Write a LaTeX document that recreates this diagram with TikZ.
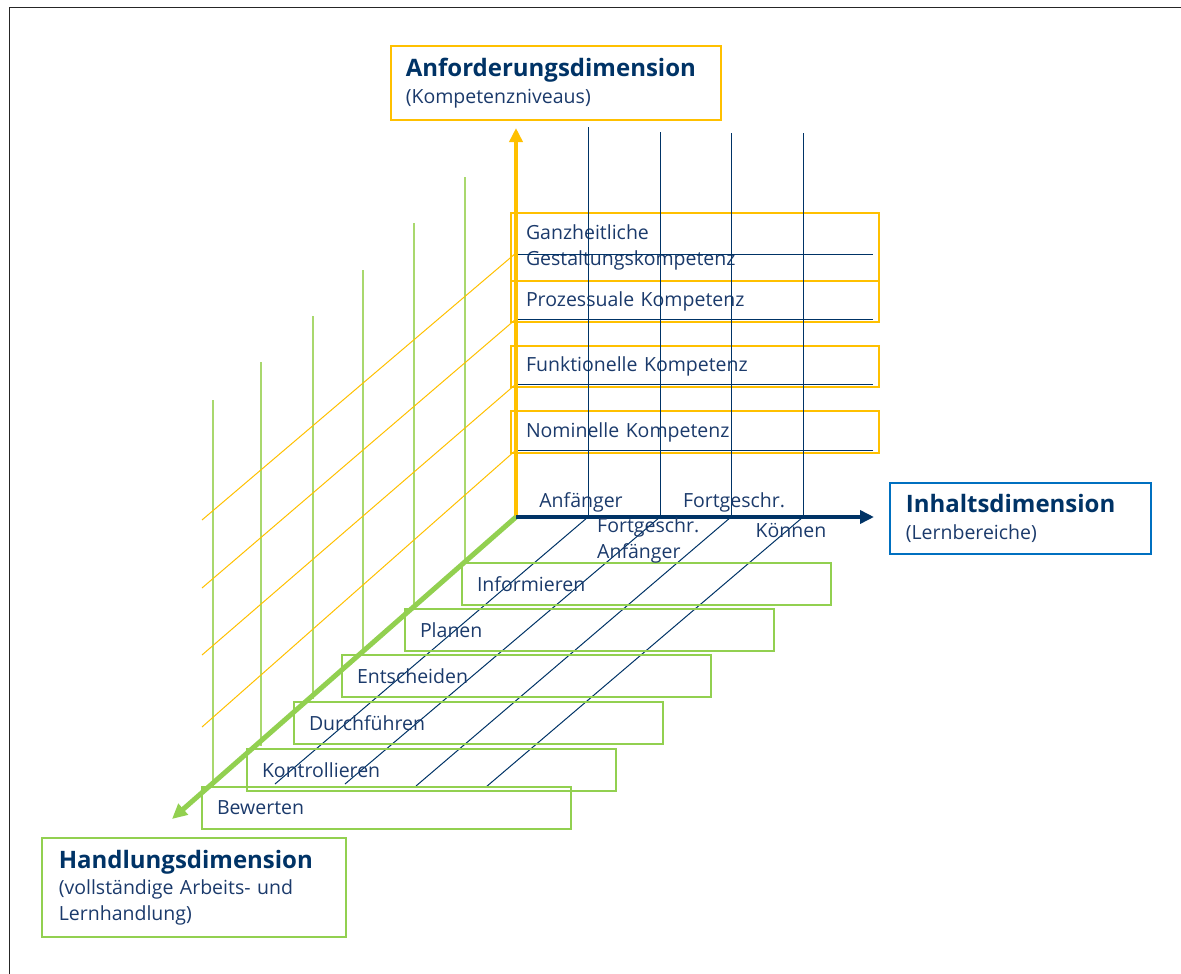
\documentclass[tikz,border=0pt]{standalone}
\usepackage{fontspec}
\setmainfont{Open Sans}
\usetikzlibrary{arrows.meta}
\definecolor{kyellow}{HTML}{FFC000}
\definecolor{kgreen}{HTML}{92D050}
\definecolor{klgreen}{HTML}{A9D86E}
\definecolor{kdblue}{HTML}{003366}
\definecolor{kblue}{HTML}{0070C0}
\definecolor{ktext}{HTML}{1B3A6B}
\newcommand{\normtext}{\fontsize{19.5}{26}\selectfont}
\newcommand{\headtext}{\fontsize{24}{28}\selectfont\bfseries}
\begin{document}
\begin{tikzpicture}[x=1pt,y=-1pt,
  lvlbox/.style={draw=kyellow, line width=2pt, anchor=north west,
    minimum width=368pt, text width=338pt, inner xsep=15pt, inner ysep=0pt,
    align=left, font=\normtext, text=ktext},
  actbox/.style={draw=kgreen, line width=2pt, anchor=north west,
    minimum width=369pt, minimum height=42pt, text width=339pt, inner xsep=15pt, inner ysep=0pt,
    align=left, font=\normtext, text=ktext},
  dimbox/.style={line width=1.6pt, anchor=north west, inner ysep=0pt,
    align=left, font=\normtext, text=ktext},
  thinblue/.style={draw=kdblue, line width=1pt},
  thinyellow/.style={draw=kyellow, line width=1pt},
  thingreen/.style={draw=klgreen, line width=1.3pt},
  lbl/.style={font=\normtext, text=ktext, inner sep=0pt},
]
\useasboundingbox (0,0) rectangle (1181,974);

% frame
\coordinate (F1) at (9.5,974);
\coordinate (F2) at (9.5,7.5);
\coordinate (F3) at (1181,7.5);
\draw[line width=1.6pt, black!85] (F1) -- (F2) -- (F3);

% origin and axis tips
\coordinate (O) at (516,517);
\coordinate (Ytip) at (516,128);
\coordinate (Xtip) at (874,517);
\coordinate (Ztip) at (172,819);

% green verticals
\foreach \i/\x/\t/\b in {1/213/400/786, 2/261/362/746, 3/313/316/699, 4/363/270/652, 5/414/223/607, 6/465/177/562}{
  \coordinate (gt\i) at (\x,\t);
  \coordinate (gb\i) at (\x,\b);
  \draw[thingreen] (gt\i) -- (gb\i);
}

% yellow diagonals
\foreach \i/\a/\b in {1/253/520, 2/319/588, 3/384/655, 4/450/727}{
  \coordinate (ys\i) at (516,\a);
  \coordinate (ye\i) at (202,\b);
  \draw[thinyellow] (ys\i) -- (ye\i);
}

% competence level boxes
\node[lvlbox, minimum height=68pt] (l4) at (510,212) {Ganzheitliche\\Gestaltungskompetenz};
\node[lvlbox, minimum height=41pt] (l3) at (510,280) {Prozessuale Kompetenz};
\node[lvlbox, minimum height=41pt] (l2) at (510,345) {Funktionelle Kompetenz};
\node[lvlbox, minimum height=42pt] (l1) at (510,410) {Nominelle Kompetenz};

% horizontal blue lines
\foreach \i/\y in {1/254, 2/319, 3/384, 4/450}{
  \coordinate (hs\i) at (518,\y);
  \coordinate (he\i) at (873,\y);
  \draw[thinblue] (hs\i) -- (he\i);
}

% vertical blue lines and diagonals
\foreach \i/\x/\t/\ex/\ey in {1/588/127/275/784, 2/660/132/345/784, 3/731/133/416/786, 4/803/133/486/787}{
  \coordinate (vt\i) at (\x,\t);
  \coordinate (vb\i) at (\x,517);
  \coordinate (de\i) at (\ex,\ey);
  \draw[thinblue] (vt\i) -- (vb\i);
  \draw[thinblue] (vb\i) -- (de\i);
}

% action boxes
\node[actbox] (a1) at (461,562) {Informieren};
\node[actbox] (a2) at (404,608) {Planen};
\node[actbox] (a3) at (341,654) {Entscheiden};
\node[actbox] (a4) at (293,701) {Durchführen};
\node[actbox] (a5) at (246,748) {Kontrollieren};
\node[actbox] (a6) at (201,786) {Bewerten};

% axes
\draw[draw=kyellow, line width=4pt, -{Triangle[length=14pt,width=13pt]}] (O) -- (Ytip);
\draw[draw=kgreen, line width=5pt, -{Triangle[length=15pt,width=14pt]}] (O) -- (Ztip);
\draw[draw=kdblue, line width=4pt, -{Triangle[length=14pt,width=13pt]}] (O) -- (Xtip);

% level labels on the content axis
\node[lbl, anchor=center] (t1) at (581,502) {Anfänger};
\node[lbl, anchor=center] (t2) at (734,502) {Fortgeschr.};
\node[lbl, anchor=north west, align=left] (t3) at (597,517) {Fortgeschr.\\Anfänger};
\node[lbl, anchor=center] (t4) at (791,530) {Können};

% dimension boxes
\node[dimbox, draw=kyellow, minimum width=330pt, minimum height=74pt, text width=300pt, inner xsep=15pt] (dA) at (390,45)
  {{\headtext\color{kdblue}Anforderungsdimension}\\[1pt](Kompetenzniveaus)};
\node[dimbox, draw=kblue, minimum width=261pt, minimum height=71pt, text width=229pt, inner xsep=16pt] (dI) at (889,482)
  {{\headtext\color{kdblue}Inhaltsdimension}\\[1pt](Lernbereiche)};
\node[dimbox, draw=kgreen, minimum width=304pt, minimum height=99pt, text width=270pt, inner xsep=17pt] (dH) at (41,837)
  {{\headtext\color{kdblue}Handlungsdimension}\\[0pt](vollständige Arbeits- und\\Lernhandlung)};
\end{tikzpicture}
\end{document}
